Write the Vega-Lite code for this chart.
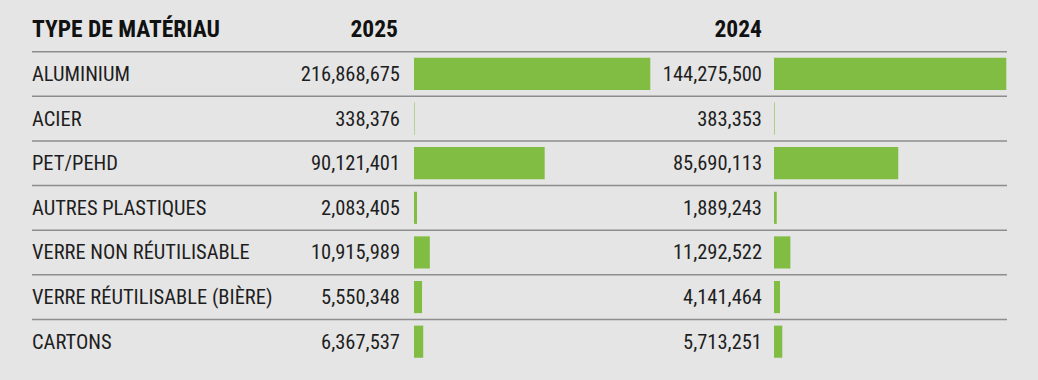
{
  "$schema": "https://vega.github.io/schema/vega-lite/v6.json",
  "background": "#e5e5e5",
  "padding": {"left": 31, "top": 7, "right": 32, "bottom": 16},
  "bounds": "flush",
  "spacing": 0,
  "config": {
    "view": {"stroke": null},
    "font": "Roboto Condensed, Noto Sans Condensed, Open Sans Condensed, Liberation Sans Narrow, Arial Narrow, Ubuntu Condensed, DejaVu Sans Condensed, sans-serif"
  },
  "datasets": {
    "rows": [
      {"material": "ALUMINIUM", "y2025": 216868675, "y2024": 144275500},
      {"material": "ACIER", "y2025": 338376, "y2024": 383353},
      {"material": "PET/PEHD", "y2025": 90121401, "y2024": 85690113},
      {"material": "AUTRES PLASTIQUES", "y2025": 2083405, "y2024": 1889243},
      {"material": "VERRE NON RÉUTILISABLE", "y2025": 10915989, "y2024": 11292522},
      {"material": "VERRE RÉUTILISABLE (BIÈRE)", "y2025": 5550348, "y2024": 4141464},
      {"material": "CARTONS", "y2025": 6367537, "y2024": 5713251}
    ]
  },
  "hconcat": [
    {
      "width": 382,
      "height": 357,
      "data": {"name": "rows"},
      "layer": [
        {
          "mark": {"type": "rule", "color": "#8d8d8d", "strokeWidth": 1.5},
          "encoding": {
            "y": {"field": "material", "type": "nominal", "bandPosition": 0,
                  "scale": {"domain": ["header", "ALUMINIUM", "ACIER", "PET/PEHD", "AUTRES PLASTIQUES", "VERRE NON RÉUTILISABLE", "VERRE RÉUTILISABLE (BIÈRE)", "CARTONS"], "paddingInner": 0, "paddingOuter": 0},
                  "axis": null}
          }
        },
        {
          "mark": {"type": "text", "align": "left", "baseline": "middle", "fontSize": 20.5, "color": "#1e1e1e", "dy": 1},
          "encoding": {
            "y": {"field": "material", "type": "nominal"},
            "x": {"datum": 0, "type": "quantitative", "scale": {"domain": [0, 1]}, "axis": null},
            "text": {"field": "material"}
          }
        },
        {
          "data": {"values": [{"h": "TYPE DE MATÉRIAU"}]},
          "mark": {"type": "text", "align": "left", "baseline": "middle", "fontSize": 23.5, "fontWeight": "bold", "color": "#111111", "dy": 1},
          "encoding": {
            "y": {"datum": "header", "type": "nominal"},
            "x": {"datum": 0, "type": "quantitative"},
            "text": {"field": "h"}
          }
        }
      ]
    },
    {
      "width": 360,
      "height": 357,
      "data": {"name": "rows"},
      "layer": [
        {
          "mark": {"type": "rule", "color": "#8d8d8d", "strokeWidth": 1.5},
          "encoding": {
            "y": {"field": "material", "type": "nominal", "bandPosition": 0,
                  "scale": {"domain": ["header", "ALUMINIUM", "ACIER", "PET/PEHD", "AUTRES PLASTIQUES", "VERRE NON RÉUTILISABLE", "VERRE RÉUTILISABLE (BIÈRE)", "CARTONS"], "paddingInner": 0, "paddingOuter": 0},
                  "axis": null}
          }
        },
        {
          "mark": {"type": "bar", "color": "#80bd42", "height": {"band": 0.72}},
          "encoding": {
            "y": {"field": "material", "type": "nominal"},
            "x": {"field": "y2025", "type": "quantitative",
                  "scale": {"domain": [0, 100000000, 144275500, 216868675], "range": [0, 145, 232.3, 236.3], "nice": false, "zero": false},
                  "axis": null}
          }
        },
        {
          "mark": {"type": "text", "align": "right", "baseline": "middle", "fontSize": 20.5, "color": "#1e1e1e", "dx": -14, "dy": 1},
          "encoding": {
            "y": {"field": "material", "type": "nominal"},
            "x": {"datum": 0, "type": "quantitative"},
            "text": {"field": "y2025", "type": "quantitative", "format": ",d"}
          }
        },
        {
          "data": {"values": [{"h": "2025"}]},
          "mark": {"type": "text", "align": "right", "baseline": "middle", "fontSize": 23.5, "fontWeight": "bold", "color": "#111111", "dx": -16, "dy": 1},
          "encoding": {
            "y": {"datum": "header", "type": "nominal"},
            "x": {"datum": 0, "type": "quantitative"},
            "text": {"field": "h"}
          }
        }
      ]
    },
    {
      "width": 233,
      "height": 357,
      "data": {"name": "rows"},
      "layer": [
        {
          "mark": {"type": "rule", "color": "#8d8d8d", "strokeWidth": 1.5},
          "encoding": {
            "y": {"field": "material", "type": "nominal", "bandPosition": 0,
                  "scale": {"domain": ["header", "ALUMINIUM", "ACIER", "PET/PEHD", "AUTRES PLASTIQUES", "VERRE NON RÉUTILISABLE", "VERRE RÉUTILISABLE (BIÈRE)", "CARTONS"], "paddingInner": 0, "paddingOuter": 0},
                  "axis": null}
          }
        },
        {
          "mark": {"type": "bar", "color": "#80bd42", "height": {"band": 0.72}},
          "encoding": {
            "y": {"field": "material", "type": "nominal"},
            "x": {"field": "y2024", "type": "quantitative",
                  "scale": {"domain": [0, 100000000, 144275500, 216868675], "range": [0, 145, 232.3, 236.3], "nice": false, "zero": false},
                  "axis": null}
          }
        },
        {
          "mark": {"type": "text", "align": "right", "baseline": "middle", "fontSize": 20.5, "color": "#1e1e1e", "dx": -12, "dy": 1},
          "encoding": {
            "y": {"field": "material", "type": "nominal"},
            "x": {"datum": 0, "type": "quantitative"},
            "text": {"field": "y2024", "type": "quantitative", "format": ",d"}
          }
        },
        {
          "data": {"values": [{"h": "2024"}]},
          "mark": {"type": "text", "align": "right", "baseline": "middle", "fontSize": 23.5, "fontWeight": "bold", "color": "#111111", "dx": -12, "dy": 1},
          "encoding": {
            "y": {"datum": "header", "type": "nominal"},
            "x": {"datum": 0, "type": "quantitative"},
            "text": {"field": "h"}
          }
        }
      ]
    }
  ]
}
